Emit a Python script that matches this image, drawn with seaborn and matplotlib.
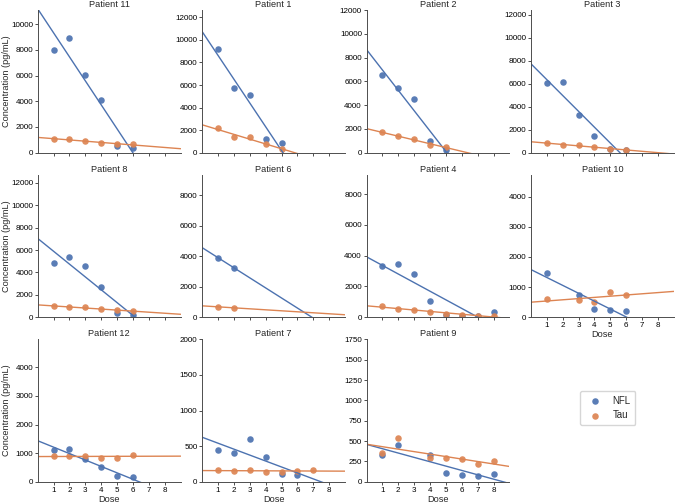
import matplotlib
matplotlib.use("Agg")
import matplotlib.pyplot as plt
from matplotlib.ticker import MultipleLocator
import seaborn as sns
import pandas as pd

# -------------------------------
# data
# -------------------------------
patients = ["Patient 11", "Patient 1", "Patient 2", "Patient 3",
            "Patient 8", "Patient 6", "Patient 4", "Patient 10",
            "Patient 12", "Patient 7", "Patient 9"]

nfl_dose = {
    "Patient 11": [1, 2, 3, 4, 5, 6],
    "Patient 1": [1, 2, 3, 4, 5],
    "Patient 2": [1, 2, 3, 4, 5],
    "Patient 3": [1, 2, 3, 4, 5, 6],
    "Patient 8": [1, 2, 3, 4, 5, 6],
    "Patient 6": [1, 2],
    "Patient 4": [1, 2, 3, 4, 5, 6, 7, 8],
    "Patient 10": [1, 3, 4, 5, 6],
    "Patient 12": [1, 2, 3, 4, 5, 6],
    "Patient 7": [1, 2, 3, 4, 5, 6],
    "Patient 9": [1, 2, 4, 5, 6, 7, 8],
}
nfl_conc = {
    "Patient 11": [8000, 8900, 6050, 4100, 520, 340],
    "Patient 1": [9150, 5700, 5150, 1200, 850],
    "Patient 2": [6550, 5450, 4500, 950, 220],
    "Patient 3": [6050, 6150, 3250, 1450, 340, 220],
    "Patient 8": [4870, 5380, 4600, 2660, 420, 200],
    "Patient 6": [3900, 3240],
    "Patient 4": [3330, 3430, 2840, 1070, 120, 90, 60, 330],
    "Patient 10": [1460, 745, 260, 245, 210],
    "Patient 12": [1100, 1135, 800, 500, 195, 150],
    "Patient 7": [447, 400, 602, 353, 104, 89],
    "Patient 9": [332, 452, 324, 108, 79, 66, 91],
}

tau_dose = {
    "Patient 11": [1, 2, 3, 4, 5, 6],
    "Patient 1": [1, 2, 3, 4, 5],
    "Patient 2": [1, 2, 3, 4, 5],
    "Patient 3": [1, 2, 3, 4, 5, 6],
    "Patient 8": [1, 2, 3, 4, 5, 6],
    "Patient 6": [1, 2],
    "Patient 4": [1, 2, 3, 4, 5, 6, 7, 8],
    "Patient 10": [1, 3, 4, 5, 6],
    "Patient 12": [1, 2, 3, 4, 5, 6],
    "Patient 7": [1, 2, 3, 4, 5, 6, 7],
    "Patient 9": [1, 2, 4, 5, 6, 7, 8],
}
tau_conc = {
    "Patient 11": [1080, 1050, 880, 750, 670, 650],
    "Patient 1": [2150, 1350, 1420, 760, 320],
    "Patient 2": [1700, 1370, 1170, 640, 470],
    "Patient 3": [810, 700, 670, 460, 350, 230],
    "Patient 8": [990, 900, 900, 690, 630, 540],
    "Patient 6": [680, 615],
    "Patient 4": [720, 545, 480, 330, 220, 150, 110, 90],
    "Patient 10": [600, 580, 490, 830, 745],
    "Patient 12": [890, 890, 915, 835, 835, 950],
    "Patient 7": [165, 155, 160, 141, 132, 150, 169],
    "Patient 9": [348, 543, 294, 290, 274, 224, 253],
}

# upper y limit and tick step of each panel
y_top = {
    "Patient 11": 11100, "Patient 1": 12650, "Patient 2": 12010,
    "Patient 3": 12430, "Patient 8": 12750, "Patient 6": 9350,
    "Patient 4": 9280, "Patient 10": 4730, "Patient 12": 4990,
    "Patient 7": 2005, "Patient 9": 1755,
}
y_step = {
    "Patient 11": 2000, "Patient 1": 2000, "Patient 2": 2000,
    "Patient 3": 2000, "Patient 8": 2000, "Patient 6": 2000,
    "Patient 4": 2000, "Patient 10": 1000, "Patient 12": 1000,
    "Patient 7": 500, "Patient 9": 250,
}

rows = []
for p in patients:
    for d, c in zip(nfl_dose[p], nfl_conc[p]):
        rows.append({"Patient": p, "Dose": d, "Concentration (pg/mL)": c, "Marker": "NFL"})
    for d, c in zip(tau_dose[p], tau_conc[p]):
        rows.append({"Patient": p, "Dose": d, "Concentration (pg/mL)": c, "Marker": "Tau"})
df = pd.DataFrame(rows)

# -------------------------------
# plot
# -------------------------------
sns.set_theme(style="ticks")
plt.rcParams["font.family"] = ["Liberation Sans", "DejaVu Sans"]
plt.rcParams.update({
    "xtick.labelsize": 5.8, "ytick.labelsize": 5.8,
    "axes.labelsize": 6.6, "axes.titlesize": 6.5,
    "xtick.major.size": 2, "ytick.major.size": 2,
    "xtick.major.pad": 1.5, "ytick.major.pad": 1.3,
    "xtick.major.width": 0.7, "ytick.major.width": 0.7,
    "axes.linewidth": 0.7,
    "axes.edgecolor": ".3", "xtick.color": ".3", "ytick.color": ".3",
    "xtick.labelcolor": "black", "ytick.labelcolor": "black",
})

g = sns.lmplot(
    data=df, x="Dose", y="Concentration (pg/mL)", hue="Marker",
    col="Patient", col_order=patients, col_wrap=4,
    hue_order=["NFL", "Tau"], palette="deep",
    sharey=False, ci=None, truncate=False, legend=False,
    height=1.6, aspect=1.0,
    facet_kws=dict(xlim=(0, 9)),
    scatter_kws=dict(s=22, linewidths=0, alpha=0.92),
    line_kws=dict(linewidth=1.0),
)

g.set_titles("{col_name}", pad=2)
for ax in g.axes.flat:
    p = ax.get_title()
    ax.set_ylim(0, y_top[p])
    ax.yaxis.set_major_locator(MultipleLocator(y_step[p]))
    ax.set_xticks(range(1, 9))
    ax.yaxis.set_label_coords(-0.19, 0.5)
    ax.xaxis.labelpad = 1

g.figure.set_size_inches(6.77, 5.03)
g.figure.subplots_adjust(left=0.0557, right=0.9954, bottom=0.0423, top=0.9801,
                         wspace=0.15, hspace=0.153)

handles, labels = g.axes[0].get_legend_handles_labels()
g.figure.legend(handles, labels, loc="center", bbox_to_anchor=(0.898, 0.189),
                frameon=True, fontsize=7, handletextpad=0.8, borderpad=0.5,
                labelspacing=0.45)

g.figure.savefig("out.png", dpi=100)
